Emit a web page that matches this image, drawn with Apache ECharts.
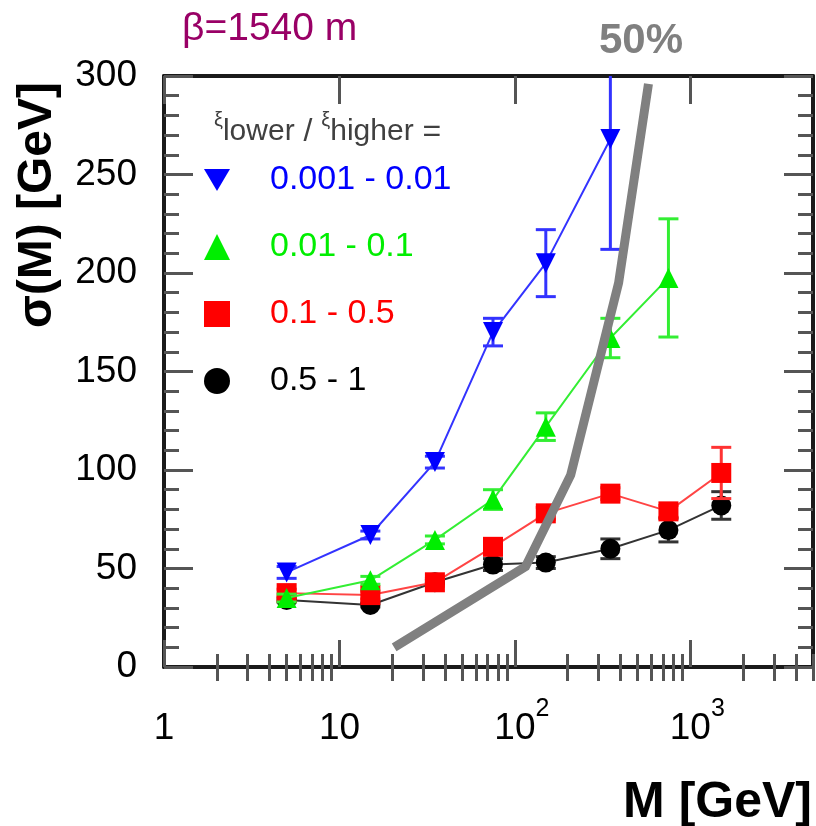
<!DOCTYPE html>
<html><head><meta charset="utf-8">
<script src="https://cdn.jsdelivr.net/npm/echarts@6/dist/echarts.min.js"></script>
<style>html,body{margin:0;padding:0;background:#fff}#c{width:816px;height:826px}</style>
</head><body><div id="c"></div>
<script>
// ---- data ----
const massBins   = [5, 15, 35, 75, 150, 350, 750, 1500];
const blueVals   = [48, 67, 104, 170, 205, 268];
const blueErrs   = [3, 2, 3, 7, 17, 56];
const greenVals  = [35, 44, 64.5, 85, 122, 167, 197.5];
const greenErrs  = [2, 2, 2, 5, 7, 10, 30];
const redVals    = [37.5, 36.5, 43, 61, 78, 88, 79, 98.5];
const redErrs    = [2, 2, 2, 3, 3, 3, 3, 13];
const blackVals  = [34, 31.5, 43, 52, 53, 60, 69.5, 82];
const blackErrs  = [1, 1, 1, 3, 3, 5, 6, 7];
const curveMass  = [20.5, 115, 208, 390, 577];
const curveSigma = [10, 51, 97.5, 195, 296];
const xMajorTicks = [1, 10, 100, 1000];
const xMinorTicks = [2, 3, 4, 5, 6, 7, 8, 9, 20, 30, 40, 50, 60, 70, 80, 90,
                     200, 300, 400, 500, 600, 700, 800, 900, 2000, 3000, 4000, 5000];
const xLabelText = {1: '1', 10: '10', 100: '10|2', 1000: '10|3'};
const legendNames = ['0.001 - 0.01', '0.01 - 0.1', '0.1 - 0.5', '0.5 - 1'];
const legendColors = ['#0000ff', '#00ee00', '#ff0000', '#000000'];

const FONT = 'Liberation Sans, Arial, Helvetica, sans-serif';
const chart = echarts.init(document.getElementById('c'), null, {renderer: 'canvas'});

function pairs(vals) { return vals.map((v, i) => [massBins[i], v]); }

function errSeries(vals, errs, color, z) {
  return {
    type: 'custom', z: z, silent: true,
    xAxisIndex: 0, yAxisIndex: 0,
    data: vals.map((v, i) => [massBins[i], v - errs[i], v + errs[i]]),
    renderItem: function (params, api) {
      const x = api.value(0), lo = api.value(1), hi = api.value(2);
      const pLo = api.coord([x, lo]), pHi = api.coord([x, hi]);
      const cs = params.coordSys;
      const top = Math.max(pHi[1], cs.y), bot = Math.min(pLo[1], cs.y + cs.height);
      const hw = 10, st = {stroke: color, lineWidth: 3};
      const ch = [{type: 'line', shape: {x1: pLo[0], y1: bot, x2: pLo[0], y2: top}, style: st}];
      if (pHi[1] >= cs.y) ch.push({type: 'line', shape: {x1: pHi[0] - hw, y1: pHi[1], x2: pHi[0] + hw, y2: pHi[1]}, style: st});
      ch.push({type: 'line', shape: {x1: pLo[0] - hw, y1: pLo[1], x2: pLo[0] + hw, y2: pLo[1]}, style: st});
      return {type: 'group', children: ch};
    }
  };
}

function lineSeries(name, vals, symbol, rot, color, lineColor, z) {
  return {
    type: 'line', name: name, z: z, xAxisIndex: 0, yAxisIndex: 0,
    data: pairs(vals), symbol: symbol, symbolRotate: rot, symbolSize: 20,
    showAllSymbol: true,
    lineStyle: {color: lineColor, width: 2},
    itemStyle: {color: color, borderWidth: 0},
    emphasis: {disabled: true}
  };
}

const tickStyle = {color: '#555', width: 3};
const frameLine = {show: true, onZero: false, lineStyle: {color: '#1a1a1a', width: 4}};

function xAxisCfg(pos, ticks, len, withLine, withLabels) {
  return {
    type: 'log', logBase: 10, min: 1, max: 5000, position: pos, gridIndex: 0,
    axisLine: withLine ? frameLine : {show: false},
    axisTick: {show: true, inside: true, length: len, lineStyle: tickStyle, customValues: ticks},
    axisLabel: withLabels ? {
      show: true, customValues: ticks, margin: 29,
      formatter: function (v) {
        const key = Math.round(v);
        const t = xLabelText[key] || String(key);
        if (t.indexOf('|') >= 0) {
          const p = t.split('|');
          return '{h|' + p[1] + '}{n|' + p[0] + '}{s|' + p[1] + '}';
        }
        return '{n|' + t + '}';
      },
      rich: {
        n: {fontSize: 37, lineHeight: 66, fontFamily: FONT, color: '#000'},
        s: {fontSize: 25, lineHeight: 26, padding: [0, 0, 40, 0], fontFamily: FONT, color: '#000'},
        h: {fontSize: 25, lineHeight: 26, padding: [0, 0, 40, 0], fontFamily: FONT, color: 'rgba(0,0,0,0)'}
      }
    } : {show: false},
    splitLine: {show: false}, minorTick: {show: false}, minorSplitLine: {show: false}
  };
}

function yAxisCfg(pos, withLabels) {
  return {
    type: 'value', min: 0, max: 300, interval: 50, position: pos, gridIndex: 0,
    axisLine: frameLine,
    axisTick: {show: true, inside: true, length: 29, lineStyle: tickStyle},
    minorTick: {show: true, splitNumber: 5, length: 15, lineStyle: tickStyle},
    axisLabel: withLabels ? {show: true, margin: 27, fontSize: 37, fontFamily: FONT, color: '#000'} : {show: false},
    splitLine: {show: false}, minorSplitLine: {show: false}
  };
}

const option = {
  animation: false,
  backgroundColor: '#fff',
  grid: {left: 164, right: 3, top: 76, bottom: 159, containLabel: false, outerBoundsMode: 'none'},
  title: [
    {text: 'β=1540 m', left: 182, top: 10, padding: 0,
     textStyle: {color: '#990066', fontSize: 39, fontWeight: 'normal', fontFamily: FONT}},
    {text: '50%', left: 599, top: 20, padding: 0,
     textStyle: {color: '#808080', fontSize: 42, fontWeight: 'bold', fontFamily: FONT}},
    {text: '{x|ξ}{s|lower}{t| / }{x|ξ}{s|higher}{t| =}', left: 214, top: 110, padding: 0,
     textStyle: {fontWeight: 'normal', rich: {
       x: {fontSize: 20, fontWeight: 'normal', fontFamily: FONT, color: '#404040', padding: [0, 0, 24, 0]},
       s: {fontSize: 30, fontWeight: 'normal', fontFamily: FONT, color: '#404040', lineHeight: 44},
       t: {fontSize: 32, fontWeight: 'normal', fontFamily: FONT, color: '#404040', lineHeight: 44}
     }}}
  ],
  legend: {
    orient: 'vertical', left: 204, top: 163, padding: 0,
    itemWidth: 26, itemHeight: 26, itemGap: 33, selectedMode: false,
    textStyle: {fontSize: 34, fontFamily: FONT, padding: [0, 0, 0, 35]},
    data: [
      {name: legendNames[0], icon: 'path://M0,0L20,0L10,17Z', itemStyle: {color: legendColors[0]}, textStyle: {color: legendColors[0]}},
      {name: legendNames[1], icon: 'triangle', itemStyle: {color: legendColors[1]}, textStyle: {color: legendColors[1]}},
      {name: legendNames[2], icon: 'rect', itemStyle: {color: legendColors[2]}, textStyle: {color: legendColors[2]}},
      {name: legendNames[3], icon: 'circle', itemStyle: {color: legendColors[3]}, textStyle: {color: legendColors[3]}}
    ]
  },
  xAxis: [
    xAxisCfg('bottom', xMajorTicks, 27, true, true),
    xAxisCfg('bottom', xMinorTicks, 13, false, false),
    xAxisCfg('top', xMajorTicks, 28, true, false),
    xAxisCfg('top', xMinorTicks, 14, false, false)
  ],
  yAxis: [yAxisCfg('left', true), yAxisCfg('right', false)],
  graphic: [
    {type: 'text', x: 38, y: 205, rotation: Math.PI / 2, z: 100,
     style: {text: 'σ(M) [GeV]', fontSize: 48, fontWeight: 'bold', fontFamily: FONT, fill: '#000', align: 'center', verticalAlign: 'middle'}},
    {type: 'text', x: 812, y: 803, z: 100,
     style: {text: 'M [GeV]', fontSize: 50, fontWeight: 'bold', fontFamily: FONT, fill: '#000', align: 'right', verticalAlign: 'middle'}}
  ],
  series: [
    errSeries(blackVals, blackErrs, '#333', 2),
    lineSeries(legendNames[3], blackVals, 'circle', 0, '#000', '#333', 3),
    errSeries(redVals, redErrs, '#ff3333', 4),
    lineSeries(legendNames[2], redVals, 'rect', 0, '#ff0000', '#ff4444', 5),
    errSeries(greenVals, greenErrs, '#33ee33', 6),
    lineSeries(legendNames[1], greenVals, 'triangle', 0, '#00ee00', '#33ee33', 7),
    errSeries(blueVals, blueErrs, '#3333ff', 8),
    lineSeries(legendNames[0], blueVals, 'triangle', 180, '#0000ff', '#3333ff', 9),
    {type: 'line', name: '50%', z: 10, xAxisIndex: 0, yAxisIndex: 0,
     data: curveMass.map((m, i) => [m, curveSigma[i]]), symbol: 'none',
     lineStyle: {color: '#808080', width: 9, cap: 'butt', join: 'miter'}, emphasis: {disabled: true}}
  ]
};
chart.setOption(option);
</script>
</body></html>
